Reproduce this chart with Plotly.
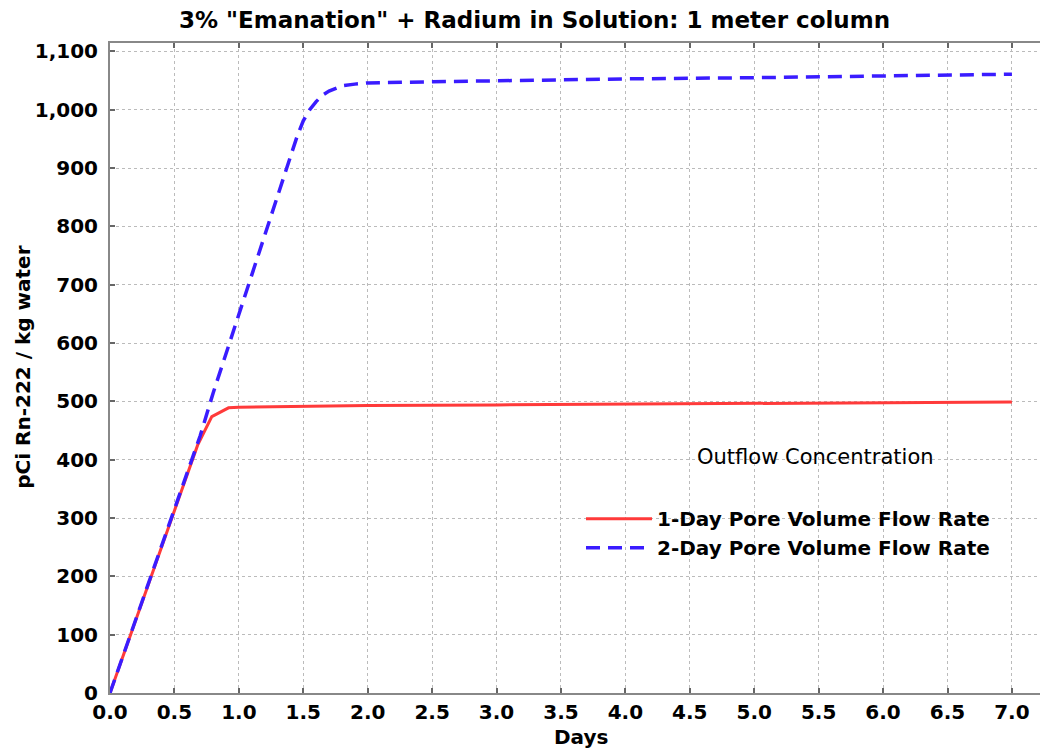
import plotly.graph_objects as go

# Data
red_days = [0, 0.2, 0.4, 0.6, 0.68, 0.79, 0.92, 1.0, 1.5, 2.0, 3.0, 4.0, 5.0, 6.0, 7.0]
red_pci = [0, 126, 252, 378, 425, 474, 489, 490, 492, 493, 494, 495, 496, 497, 499]

blue_days = [0, 0.2, 0.4, 0.6, 0.7, 0.8, 0.9, 1.0, 1.1, 1.2, 1.3, 1.4, 1.45, 1.5, 1.55,
             1.6, 1.65, 1.7, 1.8, 1.9, 2.0, 2.5, 3.0, 4.0, 5.0, 6.0, 7.0]
blue_pci = [0, 126, 252, 378, 441, 514, 582, 650, 718, 786, 854, 920, 953, 981, 1000,
            1014, 1025, 1032, 1041, 1044, 1046, 1048, 1050, 1053, 1055, 1058, 1061]

x_ticks = [0.0, 0.5, 1.0, 1.5, 2.0, 2.5, 3.0, 3.5, 4.0, 4.5, 5.0, 5.5, 6.0, 6.5, 7.0]
y_ticks = [0, 100, 200, 300, 400, 500, 600, 700, 800, 900, 1000, 1100]

series_names = ["1-Day Pore Volume Flow Rate", "2-Day Pore Volume Flow Rate"]
title_text = '3% "Emanation" + Radium in Solution: 1 meter column'
x_title = "Days"
y_title = "pCi Rn-222 / kg water"
note_text = "Outflow Concentration"

FONT = "DejaVu Sans, Verdana, sans-serif"

# page body has an 8px margin, so the figure is sized to fill the rest of the window
W, H = 1040, 743
L, R, T, B = 102, 0, 35, 57.5
OFF = 8

fig = go.Figure()
fig.add_trace(go.Scatter(x=red_days, y=red_pci, mode="lines", name=series_names[0],
                         line=dict(color="#ff3a3a", width=3)))
fig.add_trace(go.Scatter(x=blue_days, y=blue_pci, mode="lines", name=series_names[1],
                         line=dict(color="#3a1cff", width=3.5, dash="14px,8px")))

axis_common = dict(
    showline=True, linecolor="#888888", linewidth=2,
    ticks="inside", ticklen=5, tickwidth=1.5, tickcolor="#666666",
    showgrid=True, gridcolor="#bbbbbb", griddash="dot", gridwidth=1,
    zeroline=False, automargin=False,
    tickfont=dict(family=FONT, size=20, color="black", weight="bold"),
)

pw, ph = W - L - R, H - T - B

fig.update_layout(
    width=W, height=H,
    margin=dict(l=L, r=R, t=T, b=B),
    paper_bgcolor="white", plot_bgcolor="white",
    xaxis=dict(range=[0, 7.28], tickvals=x_ticks, tickformat=".1f", mirror="ticks",
               ticklabelstandoff=0, **axis_common),
    yaxis=dict(range=[0, 1114.5], tickvals=y_ticks, tickformat=",",
               ticklabelstandoff=6, **axis_common),
    showlegend=True,
    legend=dict(x=(581 - OFF - L) / pw, y=(H - B - (499.5 - OFF)) / ph,
                xanchor="left", yanchor="top",
                bgcolor="rgba(0,0,0,0)", itemwidth=66, tracegroupgap=0,
                font=dict(family=FONT, size=20, color="black", weight="bold")),
)

# text positions in screen pixels (from the reference)
texts = [
    ("<b>" + title_text + "</b>", 534, 20, 23, 0),
    ("<b>" + x_title + "</b>", 581, 738, 20, 0),
    ("<b>" + y_title + "</b>", 23, 368, 20, -90),
    (note_text, 815, 457, 21, 0),
]
for txt, sx, sy, size, ang in texts:
    fig.add_annotation(text=txt, xref="paper", yref="paper",
                       x=(sx - OFF - L) / pw, y=(H - B - (sy - OFF)) / ph,
                       xanchor="center", yanchor="middle", showarrow=False, textangle=ang,
                       font=dict(family=FONT, size=size, color="black"))

fig.write_html("out.html")
